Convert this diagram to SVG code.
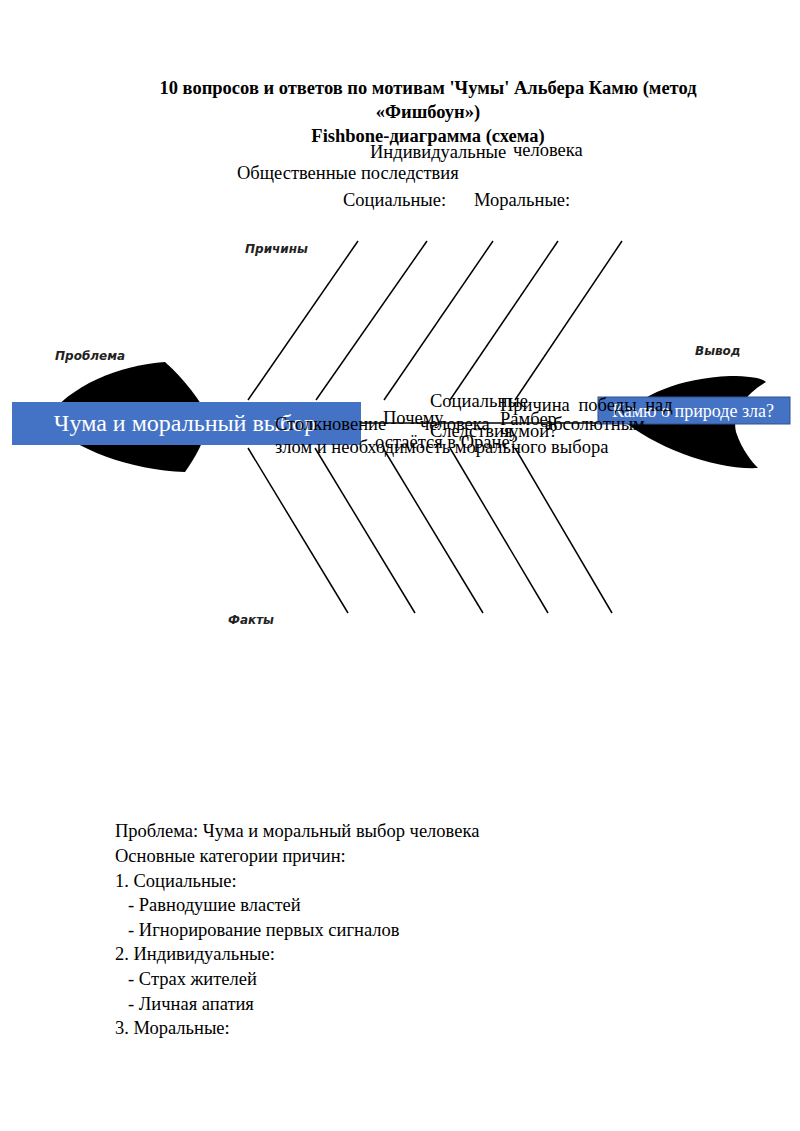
<svg xmlns="http://www.w3.org/2000/svg" width="800" height="1131" viewBox="0 0 800 1131">
<style>
.t{font-family:"Liberation Serif",serif;font-size:18.5px;fill:#000}
.b{font-weight:bold}
.lab{font-family:"DejaVu Sans",sans-serif;font-size:12px;font-weight:bold;font-style:italic;fill:#222}
.bone{stroke:#000;stroke-width:1.5;fill:none}
.box{fill:#4472c4}
.w{font-family:"Liberation Serif",serif;fill:#fff}
</style>
<rect width="800" height="1131" fill="#fff"/>
<g id="title">
<text class="t b" x="428" y="94" text-anchor="middle" font-size="17.5">10 вопросов и ответов по мотивам 'Чумы' Альбера Камю (метод</text>
<text class="t b" x="428" y="118" text-anchor="middle" font-size="17.5">«Фишбоун»)</text>
<text class="t b" x="428" y="142" text-anchor="middle" font-size="17.5">Fishbone-диаграмма (схема)</text>
</g>
<g id="heads">
<path d="M45,420 C70,385 120,365 165,362 C185,380 200,400 210,420 C205,440 195,458 185,472 C130,470 75,450 45,420 Z" fill="#000"/>
<path d="M620,418 C640,395 680,378 730,376 C750,376 762,378 766,382 C742,396 732,415 736,432 C742,450 752,462 758,468 C715,470 655,448 620,418 Z" fill="#000"/>
<text class="lab" x="55" y="360">Проблема</text>
<text class="lab" x="695" y="355">Вывод</text>
<text class="lab" x="245" y="253">Причины</text>
<text class="lab" x="228" y="624">Факты</text>
</g>
<g id="connectors">
<line class="bone" x1="250" y1="423" x2="600" y2="423" stroke-width="4"/>
<line class="bone" x1="248" y1="400" x2="358" y2="241"/>
<line class="bone" x1="316" y1="400" x2="427" y2="241"/>
<line class="bone" x1="384" y1="400" x2="493" y2="241"/>
<line class="bone" x1="450" y1="400" x2="558" y2="241"/>
<line class="bone" x1="515" y1="400" x2="622" y2="241"/>
<line class="bone" x1="248" y1="448" x2="348" y2="613"/>
<line class="bone" x1="315" y1="448" x2="415" y2="613"/>
<line class="bone" x1="383" y1="448" x2="483" y2="613"/>
<line class="bone" x1="450" y1="448" x2="548" y2="613"/>
<line class="bone" x1="515" y1="448" x2="612" y2="613"/>
</g>
<g id="problem">
<rect class="box" x="12" y="402" width="349" height="43"/>
<text class="w" x="185" y="431" text-anchor="middle" font-size="24">Чума и моральный выбор</text>
</g>
<g id="conclusion">
<rect class="box" x="598" y="397" width="192" height="27" stroke="#2f528f"/>
<text class="w" x="693" y="417" text-anchor="middle" font-size="18">Камю о природе зла?</text>
</g>
<g id="labels">
<text class="t" x="370" y="158" font-size="17.5">Индивидуальные</text>
<text class="t" x="513" y="156" font-size="22">человека</text>
<text class="t" x="237" y="179">Общественные последствия</text>
<text class="t" x="343" y="206">Социальные:</text>
<text class="t" x="474" y="206">Моральные:</text>
<text class="t" x="430" y="407">Социальные</text>
<text class="t" x="500" y="411" word-spacing="4">Причина победы над</text>
<text class="t" x="275" y="430">Столкновение</text>
<text class="t" x="383" y="424">Почему</text>
<text class="t" x="420" y="430">человека</text>
<text class="t" x="500" y="425">Рамбер</text>
<text class="t" x="545" y="430">абсолютным</text>
<text class="t" x="430" y="437">Следствия</text>
<text class="t" x="500" y="437">чумой?</text>
<text class="t" x="375" y="448">остаётся в Оране?</text>
<text class="t" x="275" y="453">злом и необходимость морального выбора</text>
</g>
<g id="text">
<text class="t" x="115" y="837">Проблема: Чума и моральный выбор человека</text>
<text class="t" x="115" y="862">Основные категории причин:</text>
<text class="t" x="115" y="887">1. Социальные:</text>
<text class="t" x="128" y="911">- Равнодушие властей</text>
<text class="t" x="128" y="936">- Игнорирование первых сигналов</text>
<text class="t" x="115" y="960">2. Индивидуальные:</text>
<text class="t" x="128" y="985">- Страх жителей</text>
<text class="t" x="128" y="1010">- Личная апатия</text>
<text class="t" x="115" y="1034">3. Моральные:</text>
</g>
</svg>
